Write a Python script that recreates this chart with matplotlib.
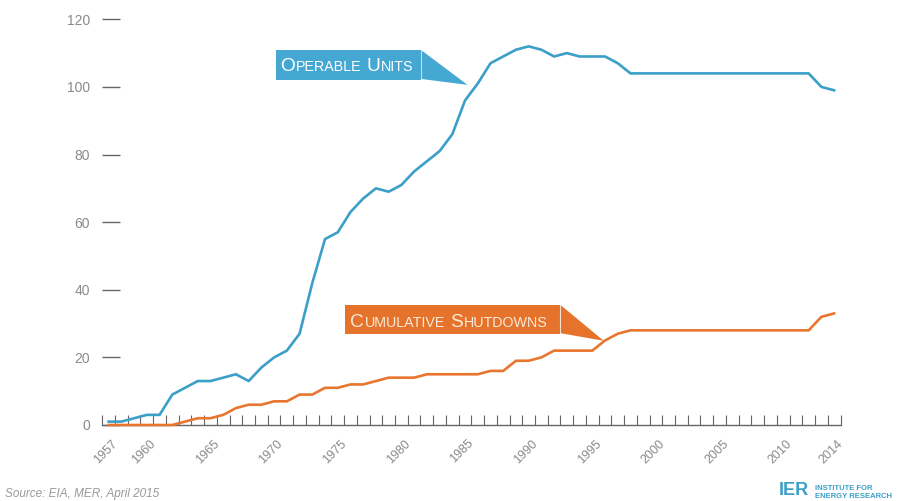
import numpy as np
import matplotlib.pyplot as plt
from matplotlib.patches import Polygon
from matplotlib.transforms import ScaledTranslation

plt.rcParams['font.family'] = ['Liberation Sans', 'DejaVu Sans']

years = np.arange(1957, 2015)
operable_units = [1, 1, 2, 3, 3, 9, 11, 13, 13, 14,
                  15, 13, 17, 20, 22, 27, 42, 55, 57, 63,
                  67, 70, 69, 71, 75, 78, 81, 86, 96, 101,
                  107, 109, 111, 112, 111, 109, 110, 109, 109, 109,
                  107, 104, 104, 104, 104, 104, 104, 104, 104, 104,
                  104, 104, 104, 104, 104, 104, 100, 99]
cumulative_shutdowns = [0, 0, 0, 0, 0, 0, 1, 2, 2, 3,
                        5, 6, 6, 7, 7, 9, 9, 11, 11, 12,
                        12, 13, 14, 14, 14, 15, 15, 15, 15, 15,
                        16, 16, 19, 19, 20, 22, 22, 22, 22, 25,
                        27, 28, 28, 28, 28, 28, 28, 28, 28, 28,
                        28, 28, 28, 28, 28, 28, 32, 33]
label_years = [1957, 1960, 1965, 1970, 1975, 1980, 1985, 1990, 1995, 2000, 2005, 2010, 2014]
y_ticks = [0, 20, 40, 60, 80, 100, 120]

BLUE = '#3b9fc8'
BLUE_BOX = '#45a8d3'
ORANGE = '#e8762e'
ORANGE_BOX = '#e6732b'

fig = plt.figure(figsize=(9.11, 5.01), dpi=100)
ax = fig.add_axes([102.3 / 911, 76 / 501, 738.2 / 911, 405.7 / 501])
ax.set_xlim(1956.5, 2014.5)
ax.set_ylim(0, 120)

ax.plot(years, operable_units, color=BLUE, lw=1.9, zorder=3, clip_on=False)
ax.plot(years, cumulative_shutdowns, color=ORANGE, lw=1.9, zorder=3, clip_on=False)

for side in ('top', 'right', 'left'):
    ax.spines[side].set_visible(False)
ax.spines['bottom'].set_color('#666666')
ax.spines['bottom'].set_linewidth(1.0)

# year boundaries get the small upward ticks, labels sit on the years
ax.set_xticks(np.arange(1956.5, 2015, 1.0), minor=True)
ax.tick_params(axis='x', which='minor', direction='in', length=7, width=0.8, color='#666666')
ax.set_xticks(label_years)
ax.set_xticklabels([str(y) for y in label_years])
ax.tick_params(axis='x', which='major', length=0, pad=9, labelsize=9, labelcolor='#8a8a8a')
shift = ScaledTranslation(-3 / 100, 0, fig.dpi_scale_trans)
for lbl in ax.get_xticklabels():
    lbl.set_rotation(45)
    lbl.set_ha('center')
    lbl.set_transform(lbl.get_transform() + shift)

ax.set_yticks(y_ticks)
ax.tick_params(axis='y', direction='in', length=13, width=1.0, color='#666666',
               pad=9, labelsize=10, labelcolor='#8a8a8a')


def small_caps(x, y, words, color, big=13.8, small=10.3):
    renderer = fig.canvas.get_renderer()
    dx = 0.0
    for word in words:
        for part, size in ((word[0], big), (word[1:], small)):
            t = ax.text(x, y, part.upper(), fontsize=size, color=color,
                        ha='left', va='baseline', zorder=6,
                        transform=ax.transData + ScaledTranslation(dx / 72, 0, fig.dpi_scale_trans))
            dx += t.get_window_extent(renderer).width * 72 / fig.dpi + 0.5
        dx += 3.4


def callout(left, right, bottom, top, tip, color):
    box = Polygon([(left, bottom), (left, top), (right, top), (right, bottom)],
                  closed=True, facecolor=color, edgecolor='none', zorder=4)
    tail = Polygon([(right, top), tip, (right, bottom + 0.03 * (top - bottom))],
                   closed=True, facecolor=color, edgecolor='none', zorder=4)
    ax.add_patch(box)
    ax.add_patch(tail)
    ax.plot([right, right], [bottom, top], color='white', lw=0.8, alpha=0.6, zorder=5)


callout(1970.15, 1981.55, 102.1, 110.9, (1985.2, 100.6), BLUE_BOX)
small_caps(1970.46, 104.7, ['Operable', 'Units'], 'white')

callout(1975.58, 1992.5, 26.9, 35.5, (1995.9, 24.9), ORANGE_BOX)
small_caps(1975.98, 29.1, ['Cumulative', 'Shutdowns'], '#f8ead8')

fig.text(5 / 911, 7 / 501, 'Source: EIA, MER, April 2015', fontsize=8.5,
         style='italic', color='#999999', va='center', ha='left')

fig.text(779 / 911, 2 / 501, 'IER', fontsize=13, fontweight='bold',
         color=BLUE, va='bottom', ha='left')
fig.text(815 / 911, 13 / 501, 'INSTITUTE FOR', fontsize=5.5, fontweight='bold',
         color=BLUE, va='center', ha='left')
fig.text(815 / 911, 5 / 501, 'ENERGY RESEARCH', fontsize=5.5, fontweight='bold',
         color=BLUE, va='center', ha='left')

fig.savefig('out.png', dpi=100)
